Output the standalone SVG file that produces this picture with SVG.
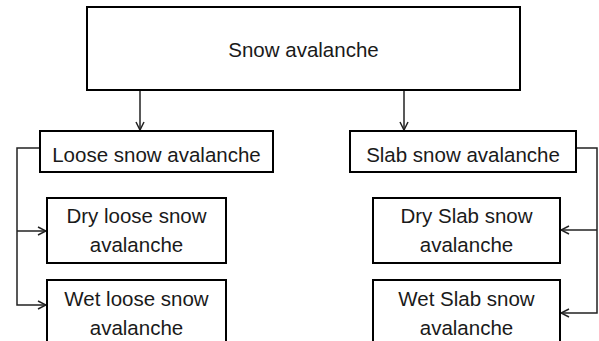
<svg xmlns="http://www.w3.org/2000/svg" width="599" height="341" viewBox="0 0 599 341">
<style>
.box{fill:#fff;stroke:#000;stroke-width:2}
.t{font-family:"Liberation Sans",Arial,sans-serif;font-size:20.5px;fill:#1a1a1a;text-anchor:middle}
.c{fill:none;stroke:#222;stroke-width:1.5}
</style>
<defs>
<marker id="ah" viewBox="0 0 10 10" refX="9" refY="5" markerWidth="10" markerHeight="10" markerUnits="userSpaceOnUse" orient="auto">
<path d="M1,1 L9,5 L1,9" fill="none" stroke="#222" stroke-width="1.5"/>
</marker>
</defs>
<rect width="599" height="341" fill="#fff"/>
<g id="connectors">
<line class="c" x1="140" y1="90" x2="140" y2="130" marker-end="url(#ah)"/>
<line class="c" x1="404" y1="90" x2="404" y2="130" marker-end="url(#ah)"/>
<polyline class="c" points="40,148 17,148 17,305 46,305" marker-end="url(#ah)"/>
<line class="c" x1="17" y1="231" x2="46" y2="231" marker-end="url(#ah)"/>
<polyline class="c" points="576,148 597,148 597,313 561,313" marker-end="url(#ah)"/>
<line class="c" x1="597" y1="230" x2="561" y2="230" marker-end="url(#ah)"/>
</g>
<g id="snow-avalanche">
<rect class="box" x="87" y="7" width="433" height="83"/>
<text class="t" x="303.5" y="57">Snow avalanche</text>
</g>
<g id="loose-snow-avalanche">
<rect class="box" x="40" y="131" width="233" height="41"/>
<text class="t" x="156.5" y="162">Loose snow avalanche</text>
</g>
<g id="slab-snow-avalanche">
<rect class="box" x="350" y="131" width="226" height="41"/>
<text class="t" x="463" y="162">Slab snow avalanche</text>
</g>
<g id="dry-loose">
<rect class="box" x="47" y="198" width="179" height="65"/>
<text class="t" x="136.5" y="223">Dry loose snow</text>
<text class="t" x="136.5" y="252">avalanche</text>
</g>
<g id="wet-loose">
<rect class="box" x="47" y="280" width="179" height="65"/>
<text class="t" x="136.5" y="306">Wet loose snow</text>
<text class="t" x="136.5" y="335">avalanche</text>
</g>
<g id="dry-slab">
<rect class="box" x="373" y="198" width="187" height="65"/>
<text class="t" x="466.5" y="223">Dry Slab snow</text>
<text class="t" x="466.5" y="252">avalanche</text>
</g>
<g id="wet-slab">
<rect class="box" x="373" y="280" width="187" height="65"/>
<text class="t" x="466.5" y="306">Wet Slab snow</text>
<text class="t" x="466.5" y="335">avalanche</text>
</g>
</svg>
